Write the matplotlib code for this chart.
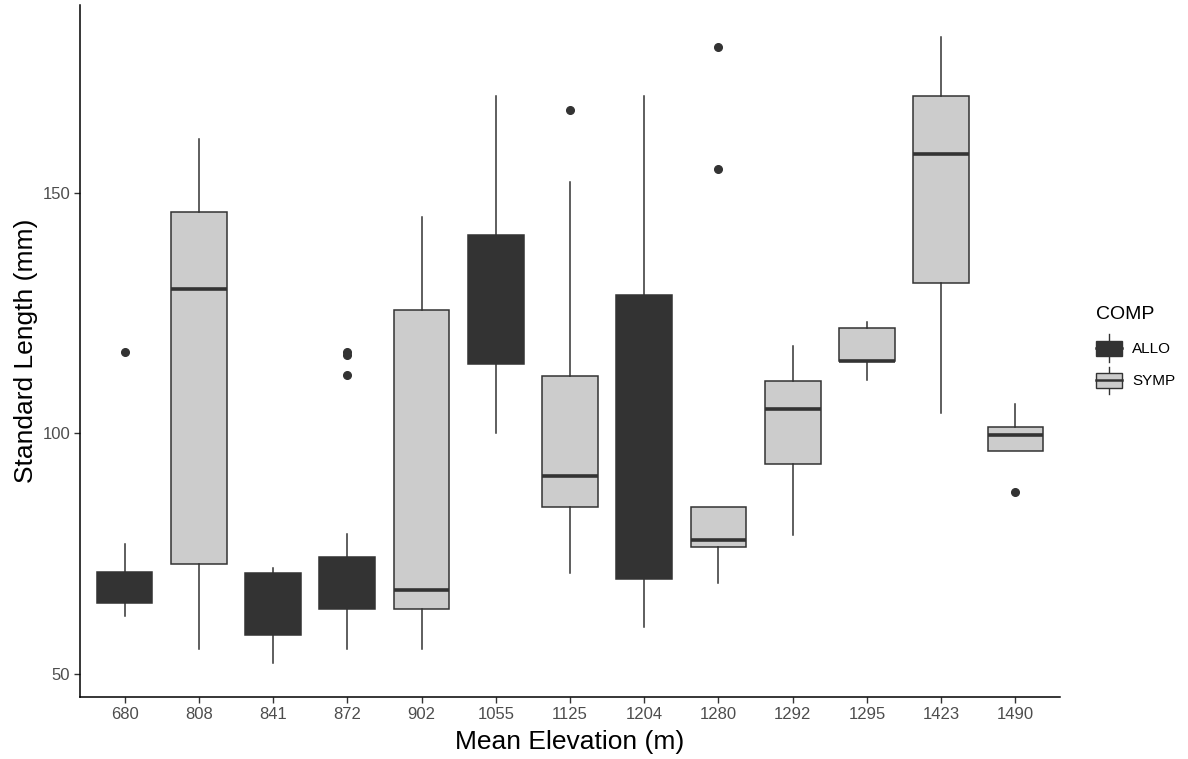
import matplotlib
matplotlib.use("Agg")
from matplotlib import pyplot as plt
from matplotlib.patches import Rectangle, Patch
from matplotlib.lines import Line2D
from matplotlib.legend_handler import HandlerBase

plt.rcParams['font.family'] = ['Liberation Sans', 'DejaVu Sans']

# values
elevation = ['680', '808', '841', '872', '902', '1055', '1125', '1204', '1280', '1292', '1295', '1423', '1490']
comp = ['ALLO', 'SYMP', 'ALLO', 'ALLO', 'SYMP', 'ALLO', 'SYMP', 'ALLO', 'SYMP', 'SYMP', 'SYMP', 'SYMP', 'SYMP']
whis_lo = [62.1, 55.1, 52.2, 55.1, 55.1, 100.1, 71.0, 59.8, 69.0, 78.8, 111.1, 104.2, 96.3]
q1 = [64.7, 72.9, 58.1, 63.5, 63.6, 114.5, 84.8, 69.7, 76.3, 93.7, 115.1, 131.2, 96.3]
med = [67.0, 130.0, 65.0, 68.0, 67.5, 128.0, 91.1, 100.0, 77.9, 105.0, 115.1, 158.2, 99.6]
q3 = [71.2, 146.0, 70.9, 74.4, 125.6, 141.3, 112.0, 128.8, 84.8, 110.9, 122.0, 170.2, 101.4]
whis_hi = [77.0, 161.2, 72.1, 79.0, 145.0, 170.2, 152.2, 170.2, 84.8, 118.2, 123.1, 182.4, 106.1]
outliers = [[117.0], [], [], [116.9, 116.3, 112.1], [], [], [167.3], [], [155.1, 180.4], [], [], [], [87.8]]

fills = {'ALLO': '#333333', 'SYMP': '#CCCCCC'}
edge = '#333333'

stats = []
for i in range(len(elevation)):
    stats.append(dict(label=elevation[i], whislo=whis_lo[i], q1=q1[i], med=med[i],
                      q3=q3[i], whishi=whis_hi[i], fliers=outliers[i]))

fig = plt.figure(figsize=(11.88, 7.59), dpi=100)
ax = fig.add_axes([80 / 1188, 1 - 697 / 759, 980 / 1188, 692 / 759])

bp = ax.bxp(stats, positions=range(1, len(elevation) + 1), widths=0.75,
            patch_artist=True, showcaps=False,
            boxprops=dict(edgecolor=edge, linewidth=1.1),
            whiskerprops=dict(color=edge, linewidth=1.1),
            medianprops=dict(color=edge, linewidth=2.6, solid_capstyle='butt'),
            flierprops=dict(marker='o', markerfacecolor=edge, markeredgecolor=edge,
                            markersize=5.5, linestyle='none'))
for box, c in zip(bp['boxes'], comp):
    box.set_facecolor(fills[c])

ax.set_xlim(0.4, len(elevation) + 0.6)
ax.set_ylim(45.2, 189.1)
ax.set_yticks([50, 100, 150])

for side in ['top', 'right']:
    ax.spines[side].set_visible(False)
for side in ['left', 'bottom']:
    ax.spines[side].set_linewidth(1.1)
    ax.spines[side].set_color('black')
ax.tick_params(length=4, width=1.0, color='#333333', labelcolor='#4D4D4D', labelsize=12, pad=3)

ax.set_xlabel('Mean Elevation (m)', fontsize=19, color='black', labelpad=6)
ax.set_ylabel('Standard Length (mm)', fontsize=19, color='black', labelpad=3)


# legend key drawn like a small boxplot
class BoxKey(HandlerBase):
    def create_artists(self, legend, orig, xd, yd, w, h, fontsize, trans):
        fc = orig.get_facecolor()
        cx = -xd + w / 2
        cy = -yd + h / 2
        bh = 0.49 * fontsize
        wh = 0.9 * fontsize
        x0, x1 = -xd, -xd + w
        rect = Rectangle((x0, cy - bh), w, 2 * bh,
                         facecolor=fc, edgecolor=edge, linewidth=1.0, transform=trans)
        lo = Line2D([cx, cx], [cy - wh, cy - bh], color=edge, lw=1.0, transform=trans)
        hi = Line2D([cx, cx], [cy + bh, cy + wh], color=edge, lw=1.0, transform=trans)
        md = Line2D([x0, x1], [cy, cy], color=edge, lw=1.8, transform=trans)
        return [lo, hi, rect, md]


handles = [Patch(facecolor=fills['ALLO'], label='ALLO'), Patch(facecolor=fills['SYMP'], label='SYMP')]
leg = fig.legend(handles=handles, handler_map={Patch: BoxKey()}, title='COMP',
                 loc='upper left', bbox_to_anchor=(1082 / 1188, 1 - 292 / 759),
                 frameon=False, fontsize=11, title_fontsize=14, handlelength=1.7,
                 handleheight=2.24, labelspacing=0.4, handletextpad=0.7)
leg._legend_box.align = 'left'
leg._legend_box.sep = 9

fig.savefig('out.png', dpi=100)
